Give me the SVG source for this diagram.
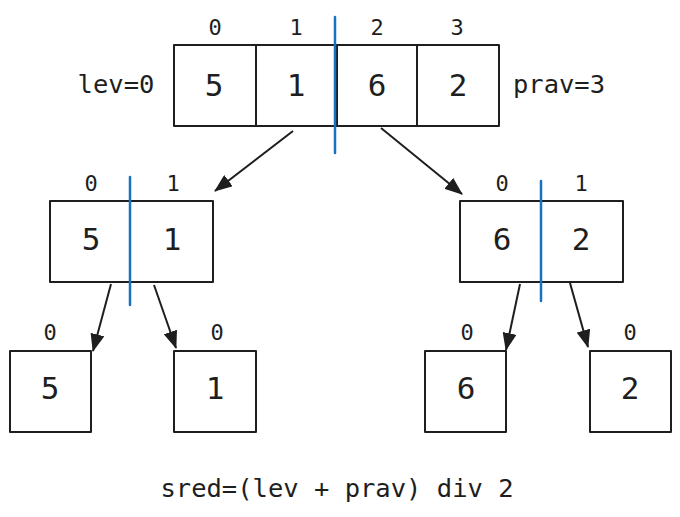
<svg xmlns="http://www.w3.org/2000/svg" width="680" height="517" viewBox="0 0 680 517">
<defs>
<marker id="ah" viewBox="0 0 18 14" refX="17" refY="7" markerWidth="18" markerHeight="14" markerUnits="userSpaceOnUse" orient="auto">
<path d="M0,0 L18,7 L0,14 Z" fill="#1e1e1e"/>
</marker>
<style>
.box{fill:none;stroke:#1e1e1e;stroke-width:2;stroke-linejoin:round}
.div{stroke:#1e1e1e;stroke-width:2}
.blue{stroke:#1971c2;stroke-width:2.5;stroke-linecap:round}
.arr{stroke:#1e1e1e;stroke-width:2;fill:none;marker-end:url(#ah)}
text{font-family:"DejaVu Sans Mono","Liberation Mono",monospace;fill:#1e1e1e;text-anchor:middle}
.idx{font-size:22px}
.val{font-size:31px}
.lbl{font-size:25.5px}
</style>
</defs>

<g id="top-array">
<rect class="box" x="174" y="45" width="325" height="81"/>
<line class="div" x1="256" y1="45" x2="256" y2="126"/>
<line class="div" x1="337" y1="45" x2="337" y2="126"/>
<line class="div" x1="417" y1="45" x2="417" y2="126"/>
<text class="idx" x="215" y="35">0</text>
<text class="idx" x="296" y="35">1</text>
<text class="idx" x="377" y="35">2</text>
<text class="idx" x="457" y="35">3</text>
<text class="val" x="214" y="96">5</text>
<text class="val" x="296" y="96">1</text>
<text class="val" x="377" y="96">6</text>
<text class="val" x="458" y="96">2</text>
<line class="blue" x1="335" y1="17" x2="335" y2="153"/>
</g>

<g id="lev-label"><text class="lbl" x="116" y="93">lev=0</text></g>
<g id="prav-label"><text class="lbl" x="559" y="93">prav=3</text></g>

<g id="mid-left">
<rect class="box" x="50" y="201" width="163" height="81"/>
<line class="div" x1="130" y1="201" x2="130" y2="282"/>
<text class="idx" x="91" y="191">0</text>
<text class="idx" x="173" y="191">1</text>
<text class="val" x="91" y="250">5</text>
<text class="val" x="172" y="250">1</text>
<line class="blue" x1="130" y1="177" x2="130" y2="305"/>
</g>

<g id="mid-right">
<rect class="box" x="460" y="201" width="163" height="81"/>
<line class="div" x1="541" y1="201" x2="541" y2="282"/>
<text class="idx" x="502" y="191">0</text>
<text class="idx" x="581" y="191">1</text>
<text class="val" x="502" y="250">6</text>
<text class="val" x="581" y="250">2</text>
<line class="blue" x1="541" y1="181" x2="541" y2="301"/>
</g>

<g id="leaf-5">
<rect class="box" x="10" y="351" width="81" height="81"/>
<text class="idx" x="50" y="340">0</text>
<text class="val" x="50" y="399">5</text>
</g>
<g id="leaf-1">
<rect class="box" x="174" y="351" width="82" height="81"/>
<text class="idx" x="217" y="340">0</text>
<text class="val" x="215" y="399">1</text>
</g>
<g id="leaf-6">
<rect class="box" x="425" y="351" width="81" height="81"/>
<text class="idx" x="467" y="340">0</text>
<text class="val" x="466" y="399">6</text>
</g>
<g id="leaf-2">
<rect class="box" x="590" y="351" width="81" height="81"/>
<text class="idx" x="630" y="340">0</text>
<text class="val" x="630" y="399">2</text>
</g>

<g id="connectors">
<line class="arr" x1="293" y1="131" x2="215" y2="191"/>
<line class="arr" x1="381" y1="128" x2="462" y2="194"/>
<line class="arr" x1="111" y1="284" x2="93" y2="351"/>
<line class="arr" x1="154" y1="285" x2="176" y2="348"/>
<line class="arr" x1="520" y1="284" x2="506" y2="350"/>
<line class="arr" x1="570" y1="283" x2="588" y2="347"/>
</g>

<g id="formula"><text class="lbl" x="337" y="497">sred=(lev + prav) div 2</text></g>
</svg>
